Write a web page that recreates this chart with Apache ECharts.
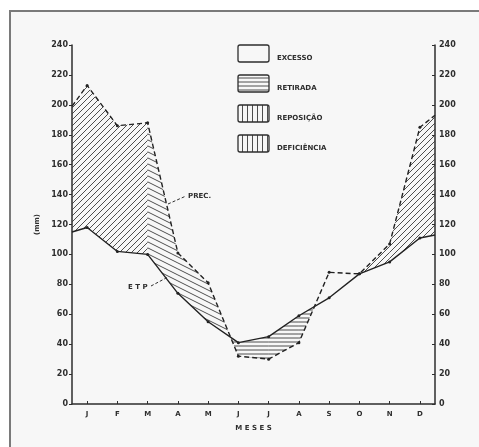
<!DOCTYPE html>
<html><head><meta charset="utf-8">
<script src="https://cdn.jsdelivr.net/npm/echarts@6/dist/echarts.min.js"></script>
<style>html,body{margin:0;padding:0;background:#fff}#c{width:479px;height:447px}</style>
</head><body><div id="c"></div>
<script>
// ---------- data ----------
const months = ['J','F','M','A','M','J','J','A','S','O','N','D'];
const precMonthly = [213,186,188,101,81,32,30,41,88,87,107,185];
const etpMonthly  = [118,102,100,74,55,41,45,59,71,87,95,111];
const precEdges = [199,193];   // value at start / end of the year
const etpEdges  = [115,113];
const yTickValues = [0,20,40,60,80,100,120,140,160,180,200,220,240];
const legendNames = ['EXCESSO','RETIRADA','REPOSIÇÃO','DEFICIÊNCIA'];
// balance class of the surplus area for each interval between consecutive points
const surplusClass = ['a','a','a','b','b','b','b','b','none','none','a','a','a'];

// ---------- derived ----------
const monthPos = months.map((m,i)=>i+0.5);
const xs = [0, ...monthPos, 12];
const prec = [precEdges[0], ...precMonthly, precEdges[1]];
const etp = [etpEdges[0], ...etpMonthly, etpEdges[1]];

function makePattern(kind){
  const c = document.createElement('canvas');
  let w=6,h=6;
  if(kind==='b'){w=12;h=6;}
  if(kind==='h'){w=4;h=4;}
  if(kind==='v'){w=5;h=4;}
  c.width=w;c.height=h;
  const g=c.getContext('2d');
  g.strokeStyle='#3a3a3a';g.lineWidth=0.9;
  g.beginPath();
  if(kind==='a'){
    for(const o of [-w,0,w]){g.moveTo(o,h);g.lineTo(o+w,0);}
  } else if(kind==='b'){
    for(const o of [-h,0,h]){g.moveTo(0,o);g.lineTo(w,o+h);}
  } else if(kind==='h'){
    g.moveTo(0,2);g.lineTo(w,2);
  } else if(kind==='v'){
    g.moveTo(2.5,0);g.lineTo(2.5,h);
  }
  g.stroke();
  return {image:c,repeat:'repeat'};
}
const pat = {a:makePattern('a'),b:makePattern('b'),h:makePattern('h'),v:makePattern('v')};

function renderArea(params, api){
  const i = params.dataIndex;
  const x0=xs[i],x1=xs[i+1],p0=prec[i],p1=prec[i+1],e0=etp[i],e1=etp[i+1];
  const d0=p0-e0,d1=p1-e1;
  const pieces=[];
  if(d0*d1<0){
    const t=d0/(d0-d1);
    const xc=x0+t*(x1-x0), yc=e0+t*(e1-e0);
    pieces.push({pts:[[x0,p0],[xc,yc],[x0,e0]],s:d0});
    pieces.push({pts:[[xc,yc],[x1,p1],[x1,e1]],s:d1});
  } else {
    pieces.push({pts:[[x0,p0],[x1,p1],[x1,e1],[x0,e0]],s:d0+d1});
  }
  const children=[];
  pieces.forEach(pc=>{
    let fill;
    if(pc.s>0){ const k=surplusClass[i]; if(k==='none') return; fill=pat[k]; }
    else fill=pat.h;
    children.push({type:'polygon',shape:{points:pc.pts.map(p=>api.coord(p))},style:{fill:fill,stroke:null}});
  });
  return {type:'group',children};
}

const lineData = (arr)=>arr.map((v,i)=>({value:[xs[i],v],symbol:(i===0||i===arr.length-1)?'none':'circle'}));

const txt = '#2e2e2e';
const axisCommon = {
  type:'value',min:0,max:240,interval:20,
  axisLine:{show:true,lineStyle:{color:txt,width:1.5}},
  splitLine:{show:false},
  axisLabel:{color:txt,fontSize:8,fontFamily:'DejaVu Sans',fontWeight:'bold'}
};

const legendGraphics=[];
const boxFill=['#f7f7f7',pat.h,pat.v,pat.v];
legendNames.forEach((n,k)=>{
  legendGraphics.push({type:'rect',shape:{x:238,y:45+30*k,width:31,height:17,r:2},style:{fill:boxFill[k],stroke:txt,lineWidth:1.3},z:5});
  legendGraphics.push({type:'text',x:277,y:58+30*k,style:{text:n,fill:txt,font:'bold 7px "DejaVu Sans"',verticalAlign:'middle'},z:5});
});

const chart = echarts.init(document.getElementById('c'),null,{renderer:'canvas'});
chart.setOption({
  animation:false,
  backgroundColor:'#ffffff',
  grid:{left:72,right:44,top:45,bottom:43},
  xAxis:{
    type:'value',min:0,max:12,
    axisLine:{show:true,lineStyle:{color:txt,width:1.5}},
    splitLine:{show:false},
    axisTick:{show:true,inside:true,length:3,customValues:monthPos,lineStyle:{color:txt}},
    axisLabel:{customValues:monthPos,formatter:v=>months[Math.round(v-0.5)],color:txt,fontSize:7,fontWeight:'bold',fontFamily:'DejaVu Sans',margin:7},
    name:'M E S E S',nameLocation:'middle',nameGap:21,
    nameTextStyle:{color:txt,fontSize:7,fontWeight:'bold',fontFamily:'DejaVu Sans'}
  },
  yAxis:[
    Object.assign({},axisCommon,{position:'left',
      axisTick:{show:true,length:3,lineStyle:{color:txt}},
      axisLabel:Object.assign({},axisCommon.axisLabel,{margin:4}),
      name:'(mm)',nameLocation:'middle',nameRotate:90,nameGap:31,
      nameTextStyle:{color:txt,fontSize:7,fontWeight:'bold',fontFamily:'DejaVu Sans'}}),
    Object.assign({},axisCommon,{position:'right',
      axisTick:{show:true,inside:true,length:3,lineStyle:{color:txt}},
      axisLabel:Object.assign({},axisCommon.axisLabel,{margin:4})})
  ],
  graphic:[
    {type:'rect',shape:{x:10,y:11,width:520,height:500},style:{fill:'#f7f7f7',stroke:'#7a7a7a',lineWidth:2},z:-100,silent:true},
    ...legendGraphics,
    {type:'text',x:188,y:196,style:{text:'PREC.',fill:txt,font:'bold 7px "DejaVu Sans"',verticalAlign:'middle'},z:5},
    {type:'line',shape:{x1:168,y1:204,x2:186,y2:196},style:{stroke:txt,lineWidth:1,lineDash:[3,2]},z:5},
    {type:'text',x:128,y:287,style:{text:'E T P',fill:txt,font:'bold 7px "DejaVu Sans"',verticalAlign:'middle'},z:5},
    {type:'line',shape:{x1:151,y1:286,x2:168,y2:277},style:{stroke:txt,lineWidth:1,lineDash:[3,2]},z:5}
  ],
  series:[
    {type:'custom',renderItem:renderArea,data:xs.slice(0,-1).map((x,i)=>[x,etp[i]]),z:1,silent:true},
    {type:'line',name:'PREC.',data:lineData(prec),symbolSize:3,
      lineStyle:{color:'#222',width:1.4,type:[5,3]},itemStyle:{color:'#222'},z:3},
    {type:'line',name:'ETP',data:lineData(etp),symbolSize:3,
      lineStyle:{color:'#222',width:1.4},itemStyle:{color:'#222'},z:3}
  ]
});
</script></body></html>
